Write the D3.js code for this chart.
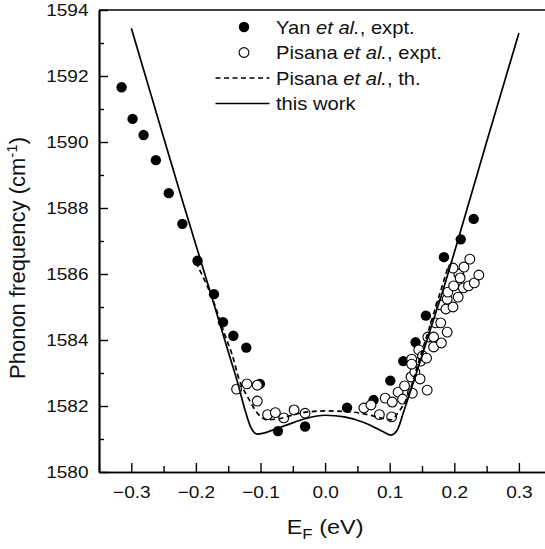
<!DOCTYPE html>
<html lang="en">
<head>
    <meta charset="UTF-8">
    <title>Phonon frequency vs Fermi energy</title>
    <script src="https://d3js.org/d3.v7.min.js"></script>
    <style>
        body { margin: 0; background: #fff; }
        text { font-family: "Liberation Sans", Arial, sans-serif; fill: #111; }
    </style>
</head>
<body>
    <svg width="545" height="549"></svg>

    <script>
        // Yan et al., experiment (filled dots)
        const yanE = [-0.315, -0.298, -0.281, -0.262, -0.242, -0.221, -0.1975, -0.172, -0.158, -0.142, -0.122, -0.101,
                      -0.073, -0.031, 0.034, 0.075, 0.101, 0.121, 0.140, 0.156, 0.184, 0.210, 0.230];
        const yanF = [1591.66, 1590.70, 1590.21, 1589.45, 1588.45, 1587.52, 1586.40, 1585.39, 1584.54, 1584.13, 1583.77, 1582.67,
                      1581.24, 1581.38, 1581.95, 1582.18, 1582.77, 1583.36, 1583.93, 1584.74, 1586.51, 1587.05, 1587.67];

        // Pisana et al., experiment (open circles)
        const pisE = [-0.137, -0.121, -0.105, -0.105, -0.089, -0.077, -0.064, -0.048, -0.031,
                      0.060, 0.071, 0.084, 0.093, 0.103, 0.104, 0.113, 0.120, 0.123, 0.133, 0.135, 0.139, 0.147,
                      0.148, 0.134, 0.134, 0.145, 0.151, 0.158, 0.157, 0.159, 0.168, 0.168, 0.171, 0.179, 0.180,
                      0.189, 0.179, 0.187, 0.198, 0.189, 0.206, 0.190, 0.199, 0.214, 0.222, 0.231, 0.238, 0.207,
                      0.209, 0.198, 0.215, 0.224];
        const pisF = [1582.51, 1582.67, 1582.63, 1582.15, 1581.74, 1581.80, 1581.64, 1581.88, 1581.78,
                      1581.94, 1582.03, 1581.74, 1582.24, 1581.67, 1582.12, 1582.42, 1582.21, 1582.61, 1582.88, 1582.39, 1583.03, 1582.82,
                      1583.36, 1583.42, 1583.27, 1583.70, 1583.52, 1582.48, 1583.45, 1584.09, 1584.09, 1583.79, 1584.52, 1584.52, 1583.91,
                      1584.24, 1585.06, 1584.94, 1585.00, 1585.24, 1585.30, 1585.45, 1585.64, 1585.58, 1585.64, 1585.73, 1585.97, 1586.00,
                      1585.88, 1586.18, 1586.21, 1586.45];

        // Pisana et al., theory (dashed)
        const thE = [-0.200, -0.172, -0.156, -0.143, -0.133, -0.120, -0.110, -0.100, -0.090, -0.070, -0.040, 0.000,
                     0.040, 0.070, 0.090, 0.102, 0.113, 0.128, 0.145, 0.165, 0.190];
        const thF = [1586.35, 1585.13, 1584.20, 1583.50, 1582.80, 1582.28, 1581.93, 1581.68, 1581.58, 1581.62, 1581.78, 1581.85,
                     1581.82, 1581.72, 1581.62, 1581.58, 1581.80, 1582.30, 1583.35, 1584.60, 1586.20];

        // this work (solid)
        const workE = [-0.300, -0.260, -0.220, -0.180, -0.150, -0.135, -0.125, -0.116, -0.105, -0.095, -0.080, -0.060,
                       -0.030, 0.000, 0.030, 0.060, 0.080, 0.090, 0.102, 0.112, 0.122, 0.133, 0.148, 0.166, 0.180,
                       0.200, 0.250, 0.300];
        const workF = [1593.45, 1590.80, 1588.17, 1585.60, 1583.65, 1582.68, 1581.95, 1581.40, 1581.15, 1581.18, 1581.28, 1581.42,
                       1581.62, 1581.72, 1581.67, 1581.50, 1581.32, 1581.22, 1581.12, 1581.28, 1581.85, 1582.50, 1583.40, 1584.50, 1585.35,
                       1586.65, 1590.00, 1593.30];

        const xMajor = [-0.3, -0.2, -0.1, 0.0, 0.1, 0.2, 0.3];
        const xMinor = [-0.35, -0.25, -0.15, -0.05, 0.05, 0.15, 0.25, 0.35];
        const yMajor = [1580, 1582, 1584, 1586, 1588, 1590, 1592, 1594];
        const yMinor = [1581, 1583, 1585, 1587, 1589, 1591, 1593];

        const margin = {top: 10, left: 99, bottom: 472};
        const stretch = 1.12; // the original lettering is a bit wider than it is tall
        const svg = d3.select("svg");

        const x = d3.scaleLinear().domain([-0.35, 0.35]).range([margin.left, margin.left + 0.7 * 646]);
        const y = d3.scaleLinear().domain([1580, 1594]).range([margin.bottom, margin.top]);

        const zip = (a, b) => a.map((v, i) => [v, b[i]]);

        // filled dots
        svg.append("g").selectAll("circle")
            .data(zip(yanE, yanF))
            .enter().append("circle")
            .attr("cx", d => x(d[0]))
            .attr("cy", d => y(d[1]))
            .attr("r", 5.2)
            .attr("fill", "#000");

        // open circles
        svg.append("g").selectAll("circle")
            .data(zip(pisE, pisF))
            .enter().append("circle")
            .attr("cx", d => x(d[0]))
            .attr("cy", d => y(d[1]))
            .attr("r", 4.9)
            .attr("fill", "#fff")
            .attr("stroke", "#000")
            .attr("stroke-width", 1.1);

        const line = d3.line()
            .x(d => x(d[0]))
            .y(d => y(d[1]))
            .curve(d3.curveMonotoneX);

        svg.append("path")
            .datum(zip(thE, thF))
            .attr("d", line)
            .attr("fill", "none")
            .attr("stroke", "#000")
            .attr("stroke-width", 1.7)
            .attr("stroke-dasharray", "5,3.5");

        svg.append("path")
            .datum(zip(workE, workF))
            .attr("d", line)
            .attr("fill", "none")
            .attr("stroke", "#000")
            .attr("stroke-width", 1.7);

        // axes (ticks pointing inwards)
        const styleAxis = g => {
            g.select(".domain").attr("stroke-width", 1.7);
            g.selectAll(".tick line").attr("stroke-width", 1.4);
            g.selectAll("text").attr("font-size", "17px").attr("fill", "#111");
        };

        svg.append("g")
            .attr("transform", `translate(0,${margin.bottom})`)
            .call(d3.axisBottom(x).tickValues(xMinor).tickSize(-6).tickSizeOuter(0).tickFormat(""))
            .call(styleAxis);
        svg.append("g")
            .attr("transform", `translate(0,${margin.bottom})`)
            .call(d3.axisBottom(x).tickValues(xMajor).tickSize(-9).tickSizeOuter(0).tickPadding(14).tickFormat(d3.format(".1f")))
            .call(styleAxis)
            .selectAll(".tick text")
            .attr("transform", `scale(${stretch},1)`);

        svg.append("g")
            .attr("transform", `translate(${margin.left},0)`)
            .call(d3.axisLeft(y).tickValues(yMinor).tickSize(-5).tickSizeOuter(0).tickFormat(""))
            .call(styleAxis);
        svg.append("g")
            .attr("transform", `translate(${margin.left},0)`)
            .call(d3.axisLeft(y).tickValues(yMajor).tickSize(-9).tickSizeOuter(0).tickPadding(10).tickFormat(d3.format("d")))
            .call(styleAxis)
            .selectAll(".tick text")
            .attr("x", -10.5 / stretch)
            .attr("transform", `scale(${stretch},1)`);

        // top frame line
        svg.append("line")
            .attr("x1", margin.left).attr("x2", x(0.35))
            .attr("y1", margin.top).attr("y2", margin.top)
            .attr("stroke", "#000").attr("stroke-width", 1.7);

        // axis titles
        const xt = svg.append("text")
            .attr("transform", `translate(${x(0)},534) scale(${stretch},1)`)
            .attr("text-anchor", "middle")
            .attr("font-size", "21px");
        xt.append("tspan").text("E");
        xt.append("tspan").attr("font-size", "15px").attr("dy", 5).text("F");
        xt.append("tspan").attr("dy", -5).text(" (eV)");

        const yt = svg.append("text")
            .attr("font-size", "22px");
        yt.append("tspan").text("Phonon frequency (cm");
        yt.append("tspan").attr("font-size", "15px").attr("dy", -8).text("-1");
        yt.append("tspan").attr("dy", 8).text(")");
        // centre the rotated title on y = 258
        const yw = yt.node().getBBox().width;
        yt.attr("x", -yw / 2).attr("transform", `translate(25,258) rotate(-90)`);

        // legend
        const legend = svg.append("g");
        const rows = [
            {kind: "filled", name: "Yan", rest: ", expt."},
            {kind: "open", name: "Pisana", rest: ", expt."},
            {kind: "dash", name: "Pisana", rest: ", th."},
            {kind: "solid", name: "this work", rest: null}
        ];
        rows.forEach((r, i) => {
            const ry = 27 + i * 25.5;
            if (r.kind === "filled") {
                legend.append("circle").attr("cx", 244).attr("cy", ry).attr("r", 5.2).attr("fill", "#000");
            } else if (r.kind === "open") {
                legend.append("circle").attr("cx", 244).attr("cy", ry).attr("r", 4.9)
                    .attr("fill", "#fff").attr("stroke", "#000").attr("stroke-width", 1.1);
            } else {
                legend.append("line").attr("x1", 215.5).attr("x2", 269.5).attr("y1", ry).attr("y2", ry)
                    .attr("stroke", "#000").attr("stroke-width", 1.7)
                    .attr("stroke-dasharray", r.kind === "dash" ? "5,3.5" : null);
            }
            const t = legend.append("text")
                .attr("transform", `translate(276,${ry + 6.5}) scale(${stretch},1)`)
                .attr("font-size", "18px");
            if (r.rest) {
                t.append("tspan").text(r.name + " ");
                t.append("tspan").attr("font-style", "italic").text("et al.");
                t.append("tspan").text(r.rest);
            } else {
                t.text(r.name);
            }
        });
    </script>
</body>
</html>
